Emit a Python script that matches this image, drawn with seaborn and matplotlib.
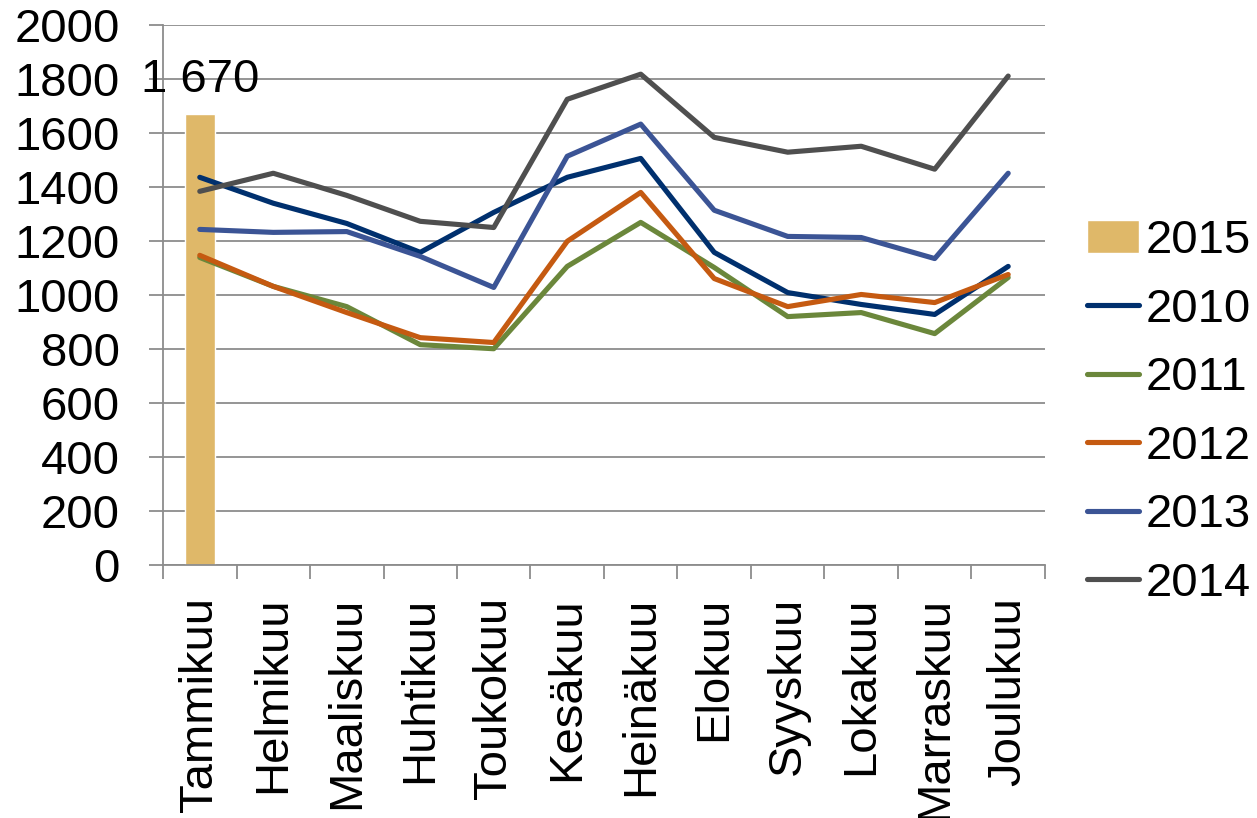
import numpy as np
import pandas as pd
import matplotlib
matplotlib.use("Agg")
import matplotlib.pyplot as plt
import seaborn as sns

# ── data ────────────────────────────────────────────────────
months = ["Tammikuu", "Helmikuu", "Maaliskuu", "Huhtikuu", "Toukokuu", "Kesäkuu",
          "Heinäkuu", "Elokuu", "Syyskuu", "Lokakuu", "Marraskuu", "Joulukuu"]

y2010 = [1436, 1340, 1265, 1158, 1306, 1436, 1506, 1158, 1009, 965, 928, 1106]
y2011 = [1139, 1032, 957, 816, 801, 1106, 1269, 1102, 920, 935, 857, 1065]
y2012 = [1147, 1032, 935, 842, 824, 1199, 1380, 1061, 957, 1002, 972, 1076]
y2013 = [1243, 1232, 1235, 1143, 1028, 1514, 1633, 1314, 1217, 1213, 1135, 1451]
y2014 = [1384, 1451, 1369, 1273, 1250, 1725, 1818, 1584, 1529, 1551, 1466, 1811]

bar_month = ["Tammikuu"]
bar_2015 = [1670]
bar_text = ["1 670"]

years = ["2010", "2011", "2012", "2013", "2014"]
series = [y2010, y2011, y2012, y2013, y2014]
line_colors = ["#00306E", "#6B873B", "#C55A11", "#3B5495", "#4F4F4F"]
bar_color = "#DFB869"
grid_col = "#8C8C8C"
LW = 3.7

sns.set_theme(style="white")
plt.rcParams["font.family"] = ["Liberation Sans", "DejaVu Sans"]
plt.rcParams.update({"text.color": "black", "xtick.color": "black",
                     "ytick.color": "black", "lines.linewidth": LW})
FS = 34

fig = plt.figure(figsize=(12.57, 8.18), dpi=100)
ax = fig.add_axes([0.1297, 0.3093, 0.8313 - 0.1297, 0.9694 - 0.3093])

# 2015 bar (January only)
bar_df = pd.DataFrame({"month": bar_month, "value": bar_2015})
sns.barplot(data=bar_df, x="month", y="value", order=months, color=bar_color,
            saturation=1, width=0.41, label="2015", ax=ax)

# lines 2010-2014
pos = np.arange(len(months))
for yr, vals, col in zip(years, series, line_colors):
    d = pd.DataFrame({"pos": pos, "value": vals})
    sns.lineplot(data=d, x="pos", y="value", color=col, lw=LW,
                 label=yr, ax=ax)
for ln in ax.get_lines():
    ln.set_linewidth(LW)

# value label on the bar
for m, v, t in zip(bar_month, bar_2015, bar_text):
    ax.annotate(t, xy=(months.index(m), v), xytext=(0, 9),
                textcoords="offset points", ha="center", va="bottom",
                fontsize=FS, color="black")

ax.set_xlim(-0.5, len(months) - 0.5)
ax.set_ylim(0, 2000)
ax.set_yticks(np.arange(0, 2001, 200))
ax.set_xticks(pos)
ax.set_xticklabels(months, rotation=90, fontsize=FS)
ax.set_xticks(np.arange(-0.5, len(months)), minor=True)
ax.set_xlabel("")
ax.set_ylabel("")

ax.yaxis.grid(True, color=grid_col, linewidth=1.3)
ax.xaxis.grid(False)
ax.set_axisbelow(True)
for s in ["top", "right"]:
    ax.spines[s].set_visible(False)
for s in ["left", "bottom"]:
    ax.spines[s].set_color(grid_col)
    ax.spines[s].set_linewidth(1.3)

ax.tick_params(axis="y", which="major", length=10, width=1.3, color=grid_col,
               labelsize=FS, labelcolor="black", pad=21, left=True)
ax.tick_params(axis="x", which="major", length=0, pad=23, labelsize=FS,
               labelcolor="black")
ax.tick_params(axis="x", which="minor", length=10, width=1.3, color=grid_col,
               bottom=True)

handles, labels = ax.get_legend_handles_labels()
order = ["2015"] + years
hmap = dict(zip(labels, handles))
leg = ax.legend([hmap[k] for k in order], order, loc="upper left",
                bbox_to_anchor=(0.865, 0.732), bbox_transform=fig.transFigure,
                frameon=False, fontsize=FS, handlelength=1.1, handletextpad=0.13,
                labelspacing=0.52, borderaxespad=0, borderpad=0)
for t in leg.get_texts():
    t.set_color("black")

fig.savefig("out.png", dpi=100)
